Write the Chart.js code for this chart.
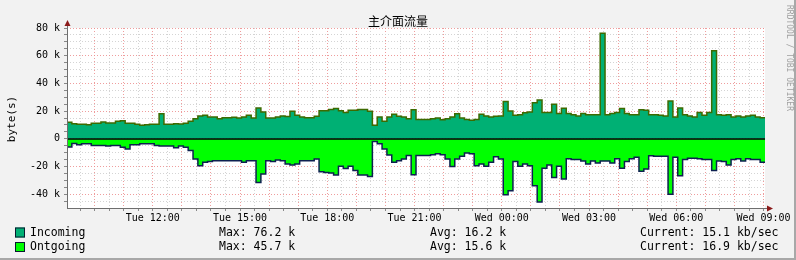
<!DOCTYPE html>
<html>
<head>
<meta charset="utf-8">
<script src="https://cdn.jsdelivr.net/npm/chart.js@4/dist/chart.umd.min.js"></script>
<style>
  html, body { margin: 0; padding: 0; background: #f2f2f2; }
  canvas { display: block; }
</style>
</head>
<body>
<canvas id="trafficChart" width="796" height="260"></canvas>
<script>
// samples every 10 minutes, first one Tue 09:03 (hours counted from Tue 00:00)
const startHour = 9.05;
const stepHours = 1 / 6;

// k bytes
const incoming = [
  12, 10.9, 10.4, 10.4, 10.2, 11.2, 11.2, 12.1, 11.4, 11.4,
  12.6, 13, 11.2, 11.2, 10.4, 9.7, 10.2, 10.4, 10.4, 18,
  10.4, 10.4, 10.9, 10.7, 11.2, 12.6, 14.5, 16.4, 16.9, 15.7,
  15.7, 14.5, 15.2, 15.2, 15.5, 15, 15.7, 16.9, 15, 22.3,
  19.4, 15, 15, 15.7, 16.4, 16, 19.9, 16.9,
  15.7, 15.2, 15.2, 16.2, 20.2, 20.2, 21.2, 21.8, 20.2, 19,
  20.6, 20.6, 21.2, 21.2, 19.9, 9.7, 15.7, 12.6, 15.7, 17.7,
  16.2, 15.7, 14.5, 21, 14, 14, 14, 14.5, 15, 13.8,
  14.5, 15.7, 18.1, 15, 14, 13.3, 14, 17.7, 16.4, 15.7,
  16.2, 16.4, 27, 20, 16.9, 17.4, 18.8, 19.4,
  26, 28, 19, 19, 25, 18.2, 22, 18.2, 17.4, 16.5,
  18.2, 17.4, 17.4, 17.4, 76.2, 17.4, 18.2, 19, 21.8, 18.2,
  17.4, 17.4, 21, 20.6, 17.4, 17.4, 16.9, 16.5, 27.2, 15.7,
  22.3, 17.4, 16.5, 15.7, 19, 16.9, 19, 63.5, 17.4, 16.9,
  17.4, 15.7, 16.5, 15.7, 16.5, 16.9, 15.7, 15.1
];

const outgoing = [
  6, 3.5, 4.4, 3.6, 3.6, 4.9, 4.9, 4.9, 5.3, 4.9,
  4.9, 6.1, 7.3, 4.4, 4.4, 3.6, 3.6, 3.6, 4.9, 5.3,
  5.3, 5.3, 6.5, 5.3, 6.1, 8.5, 14.6, 19.4, 17, 16.5,
  15.8, 15.8, 15.8, 15.8, 15.8, 15.8, 17, 15.8, 15.8, 31.5,
  25.4, 15.8, 16.5, 15.3, 15.8, 18.2, 18.9, 18.2,
  15.8, 15.8, 15.8, 14.6, 23.8, 24.3, 24.8, 26.2, 19.9, 21.4,
  19.9, 23, 26.2, 26.2, 27.2, 1.9, 3.6, 7.3, 11.7, 17,
  15.8, 14.6, 12.1, 26, 12.1, 12.1, 12.1, 11.6, 10.9, 11.6,
  14.6, 20, 14.6, 12.6, 10.2, 10.9, 19.4, 18.2, 19.9, 17,
  12.9, 14.6, 40.5, 37.6, 16.5, 19.9, 18.2, 19.4,
  34, 45.7, 21.3, 19, 28, 19.9, 29, 14.4, 14.9, 14.9,
  16, 18.2, 16, 17.5, 16, 16, 17.5, 14.4, 21.3, 16.5,
  14.4, 13.4, 23.5, 21.8, 12.2, 12.6, 12.6, 12.6, 40.1, 13.4,
  26.7, 14.9, 14.1, 14.1, 14.4, 14.9, 14.9, 23, 16, 16.5,
  18.9, 14.9, 14.4, 16, 14.4, 14.9, 14.9, 16.9
];

const xLabelHours = [12, 15, 18, 21, 24, 27, 30, 33];
const xLabels = ['Tue 12:00', 'Tue 15:00', 'Tue 18:00', 'Tue 21:00', 'Wed 00:00', 'Wed 03:00', 'Wed 06:00', 'Wed 09:00'];
const yLabelValues = [-40000, -20000, 0, 20000, 40000, 60000, 80000];
const yLabels = ['-40 k', '-20 k', '0', '20 k', '40 k', '60 k', '80 k'];

const seriesNames = ['Incoming', 'Ontgoing'];
const seriesFill = ['#00b074', '#00ff00'];
const seriesLine = ['#3d6a00', '#0d2050'];
const maxText = ['Max: 76.2 k', 'Max: 45.7 k'];
const avgText = ['Avg: 16.2 k', 'Avg: 15.6 k'];
const currentText = ['Current: 15.1 kb/sec', 'Current: 16.9 kb/sec'];

const majorGrid = 'rgba(236,140,140,0.85)';
const minorGrid = '#d4d4d4';
const mono = '"DejaVu Sans Mono", monospace';

function toPoints(values, sign) {
  const pts = values.map((v, i) => ({ x: startHour + i * stepHours, y: sign * v * 1000 }));
  // close the last step at the end of its interval
  pts.push({ x: startHour + values.length * stepHours, y: sign * values[values.length - 1] * 1000 });
  return pts;
}

const rrdDecor = {
  id: 'rrdDecor',
  beforeDraw(chart) {
    const { ctx, chartArea: a } = chart;
    ctx.save();
    ctx.fillStyle = '#f2f2f2';
    ctx.fillRect(0, 0, chart.width, chart.height);
    ctx.fillStyle = '#ffffff';
    ctx.fillRect(a.left, a.top, a.right - a.left, a.bottom - a.top);
    ctx.restore();
  },
  afterDatasetsDraw(chart) {
    const { ctx, chartArea: a, scales: { y } } = chart;
    const y0 = Math.round(y.getPixelForValue(0));
    ctx.save();
    ctx.strokeStyle = '#000';
    ctx.lineWidth = 1.5;
    ctx.beginPath();
    ctx.moveTo(a.left, y0);
    ctx.lineTo(a.right, y0);
    ctx.stroke();
    ctx.restore();
  },
  afterDraw(chart) {
    const { ctx, chartArea: a } = chart;
    ctx.save();

    // axis lines with arrows
    ctx.strokeStyle = '#6e6e6e';
    ctx.lineWidth = 1;
    ctx.beginPath();
    ctx.moveTo(a.left + 0.5, a.bottom);
    ctx.lineTo(a.left + 0.5, 22);
    ctx.moveTo(a.left, a.bottom + 0.5);
    ctx.lineTo(770, a.bottom + 0.5);
    ctx.stroke();
    ctx.fillStyle = '#8b1a1a';
    ctx.beginPath();
    ctx.moveTo(a.left + 0.5, 20);
    ctx.lineTo(a.left - 2.5, 26);
    ctx.lineTo(a.left + 3.5, 26);
    ctx.closePath();
    ctx.fill();
    ctx.beginPath();
    ctx.moveTo(773, a.bottom + 0.5);
    ctx.lineTo(767, a.bottom - 2.5);
    ctx.lineTo(767, a.bottom + 3.5);
    ctx.closePath();
    ctx.fill();

    // title
    ctx.fillStyle = '#000';
    ctx.font = '12px "Noto Sans CJK SC", sans-serif';
    ctx.textAlign = 'center';
    ctx.textBaseline = 'middle';
    ctx.fillText('主介面流量', 398, 21);

    // y axis title
    ctx.save();
    ctx.translate(12, 119);
    ctx.rotate(-Math.PI / 2);
    ctx.font = '11px ' + mono;
    ctx.fillText('byte(s)', 0, 0);
    ctx.restore();

    // watermark
    ctx.save();
    ctx.translate(789, 5);
    ctx.rotate(Math.PI / 2);
    ctx.font = '8px ' + mono;
    ctx.textAlign = 'left';
    ctx.fillStyle = '#a0a0a0';
    ctx.fillText('RRDTOOL / TOBI OETIKER', 0, 0);
    ctx.restore();

    // legend
    ctx.font = '11.5px ' + mono;
    ctx.textAlign = 'left';
    ctx.textBaseline = 'middle';
    seriesNames.forEach((name, i) => {
      const cy = 232.5 + i * 14.5;
      ctx.fillStyle = seriesFill[i];
      ctx.fillRect(15, cy - 5, 10, 10);
      ctx.strokeStyle = '#0a1a30';
      ctx.lineWidth = 1;
      ctx.strokeRect(15.5, cy - 4.5, 9, 9);
      ctx.fillStyle = '#000';
      ctx.fillText(name, 30, cy + 0.5);
      ctx.fillText(maxText[i], 219, cy + 0.5);
      ctx.fillText(avgText[i], 430, cy + 0.5);
      ctx.fillText(currentText[i], 640, cy + 0.5);
    });

    // frame shade
    ctx.fillStyle = '#a8a8a8';
    ctx.fillRect(0, chart.height - 2, chart.width, 2);
    ctx.fillRect(chart.width - 2, 0, 2, chart.height);
    ctx.restore();
  }
};

function drawChart() {
  const ctx = document.getElementById('trafficChart').getContext('2d');
  new Chart(ctx, {
    type: 'line',
    data: {
      datasets: [
        {
          label: seriesNames[0],
          data: toPoints(incoming, 1),
          stepped: 'before',
          fill: 'origin',
          backgroundColor: seriesFill[0],
          borderColor: seriesLine[0],
          borderWidth: 1.5,
          pointRadius: 0
        },
        {
          label: seriesNames[1],
          data: toPoints(outgoing, -1),
          stepped: 'before',
          fill: 'origin',
          backgroundColor: seriesFill[1],
          borderColor: seriesLine[1],
          borderWidth: 1.5,
          pointRadius: 0
        }
      ]
    },
    options: {
      responsive: false,
      devicePixelRatio: 1,
      animation: false,
      layout: { padding: { left: 0, right: 31, top: 28, bottom: 32 } },
      plugins: {
        legend: { display: false },
        title: { display: false },
        tooltip: { enabled: false }
      },
      scales: {
        x: {
          type: 'linear',
          min: startHour,
          max: startHour + 24,
          afterFit: (scale) => { scale.height = 20; },
          afterBuildTicks: (scale) => {
            const ticks = [];
            for (let h = 9.5; h <= 33; h += 0.5) ticks.push({ value: h });
            scale.ticks = ticks;
          },
          ticks: {
            autoSkip: false,
            maxRotation: 0,
            padding: 1,
            color: '#000',
            font: { family: mono, size: 10 },
            callback: (v) => {
              const idx = xLabelHours.indexOf(v);
              return idx >= 0 ? xLabels[idx] : '';
            }
          },
          grid: {
            color: (c) => (c.tick && Number.isInteger(c.tick.value)) ? majorGrid : minorGrid,
            tickLength: 3,
            tickColor: '#888'
          },
          border: { display: false, dash: [1, 2] }
        },
        y: {
          min: -50000,
          max: 80000,
          afterFit: (scale) => { scale.width = 67; },
          afterBuildTicks: (scale) => {
            const ticks = [];
            for (let v = -45000; v <= 80000; v += 5000) ticks.push({ value: v });
            scale.ticks = ticks;
          },
          ticks: {
            autoSkip: false,
            padding: 4,
            color: '#000',
            font: { family: mono, size: 10 },
            callback: (v) => {
              const idx = yLabelValues.indexOf(v);
              return idx >= 0 ? yLabels[idx] : '';
            }
          },
          grid: {
            color: (c) => (c.tick && c.tick.value % 20000 === 0) ? majorGrid : minorGrid,
            tickLength: 3,
            tickColor: '#888'
          },
          border: { display: false, dash: [1, 2] }
        }
      }
    },
    plugins: [rrdDecor]
  });
}

document.addEventListener('DOMContentLoaded', drawChart);
</script>
</body>
</html>
